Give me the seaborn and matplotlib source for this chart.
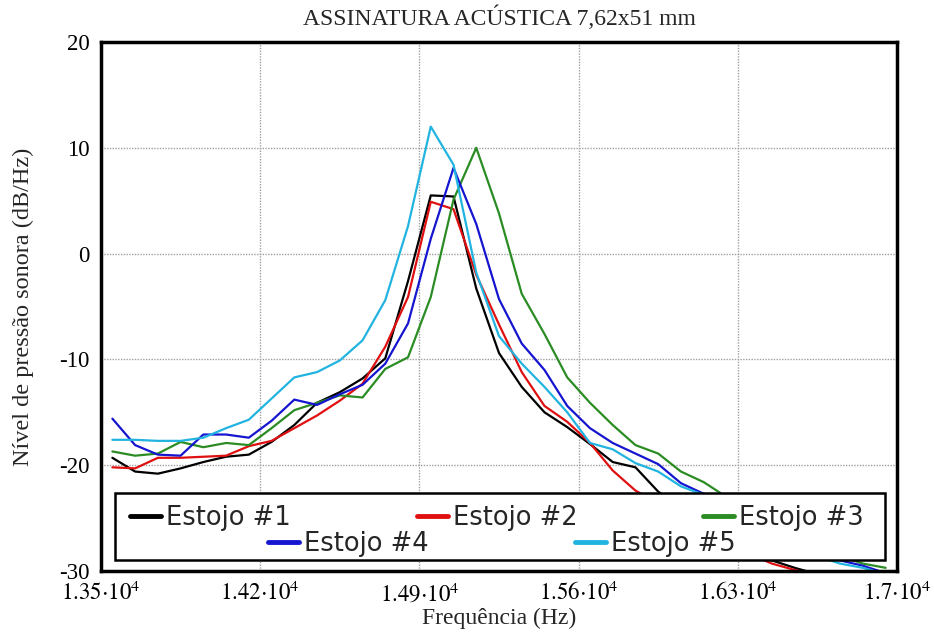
import numpy as np
import pandas as pd
import matplotlib
matplotlib.use("Agg")
import matplotlib.pyplot as plt
import seaborn as sns
from matplotlib.ticker import FixedLocator, FuncFormatter
from matplotlib.patches import Rectangle
from matplotlib.lines import Line2D

# ---------------- data ----------------
freq = [13550, 13650, 13750, 13850, 13950, 14050, 14150, 14250, 14350, 14450,
        14550, 14650, 14750, 14850, 14950, 15050, 15150, 15250, 15350, 15450,
        15550, 15650, 15750, 15850, 15950, 16050, 16150, 16250, 16350, 16450,
        16550, 16650, 16750, 16850, 16950]

estojo1 = [-19.3, -20.6, -20.8, -20.3, -19.7, -19.2, -19.0, -17.8, -16.2, -14.1,
           -13.1, -11.8, -9.9, -2.6, 5.5, 5.4, -3.3, -9.4, -12.6, -15.0,
           -16.4, -18.0, -19.7, -20.2, -22.5, -24.0, -25.3, -26.6, -27.8, -29.0,
           -29.7, -30.3, -30.8, -31.2, -31.5]
estojo2 = [-20.2, -20.3, -19.3, -19.3, -19.2, -19.1, -18.2, -17.7, -16.5, -15.3,
           -13.9, -12.3, -8.8, -4.1, 4.9, 4.2, -2.0, -6.7, -11.2, -14.4,
           -15.9, -17.9, -20.5, -22.4, -23.6, -24.8, -26.0, -27.2, -28.4, -29.3,
           -29.9, -30.4, -30.8, -31.1, -31.4]
estojo3 = [-18.7, -19.1, -18.9, -17.8, -18.3, -17.9, -18.1, -16.5, -14.8, -14.1,
           -13.4, -13.6, -10.9, -9.8, -4.1, 5.1, 10.0, 3.8, -3.8, -7.6,
           -11.7, -14.1, -16.2, -18.1, -18.9, -20.6, -21.6, -23.0, -24.3, -25.5,
           -26.7, -27.8, -28.6, -29.3, -29.7]
estojo4 = [-15.6, -18.1, -19.0, -19.1, -17.1, -17.1, -17.4, -15.8, -13.8, -14.3,
           -13.3, -12.4, -10.4, -6.6, 1.4, 8.1, 2.8, -4.3, -8.5, -11.0,
           -14.4, -16.5, -17.9, -18.9, -19.9, -21.7, -22.7, -23.8, -25.0, -26.3,
           -27.4, -28.3, -29.0, -29.5, -30.2]
estojo5 = [-17.6, -17.6, -17.7, -17.7, -17.4, -16.5, -15.7, -13.7, -11.7, -11.2,
           -10.1, -8.2, -4.4, 2.6, 12.0, 8.4, -1.8, -7.8, -10.4, -12.6,
           -15.0, -17.9, -18.5, -19.8, -20.6, -22.0, -22.8, -24.0, -25.3, -26.5,
           -27.6, -28.6, -29.3, -29.7, -30.3]

series_names = ["Estojo #1", "Estojo #2", "Estojo #3", "Estojo #4", "Estojo #5"]
series_values = [estojo1, estojo2, estojo3, estojo4, estojo5]
colors = ["#000000", "#e01010", "#2a8c22", "#1515d0", "#22b4e0"]

x_ticks = [13500, 14200, 14900, 15600, 16300, 17000]
x_tick_mant = ["1.35", "1.42", "1.49", "1.56", "1.63", "1.7"]
y_ticks = [20, 10, 0, -10, -20, -30]

title = "ASSINATURA ACÚSTICA 7,62x51 mm"
xlabel = "Frequência (Hz)"
ylabel = "Nível de pressão sonora (dB/Hz)"

# ---------------- frame ----------------
df = pd.DataFrame({
    "freq": np.tile(freq, len(series_names)),
    "level": np.concatenate(series_values),
    "estojo": np.repeat(series_names, len(freq)),
})

sns.set_theme(style="white")
plt.rcParams["font.family"] = ["Liberation Serif", "DejaVu Serif"]
plt.rcParams["mathtext.fontset"] = "stix"
plt.rcParams["axes.unicode_minus"] = False

fig = plt.figure(figsize=(9.34, 6.35), dpi=100)
ax = fig.add_axes([101 / 934, 1 - 571 / 635, 796 / 934, 529 / 635])

sns.lineplot(data=df, x="freq", y="level", hue="estojo", palette=colors,
             hue_order=series_names, linewidth=1.6, legend=False, ax=ax)

ax.set_xlim(13500, 17000)
ax.set_ylim(-30, 20)
ax.xaxis.set_major_locator(FixedLocator(x_ticks))
ax.yaxis.set_major_locator(FixedLocator(y_ticks))
lab_map = dict(zip(x_ticks, x_tick_mant))
ax.xaxis.set_major_formatter(FuncFormatter(
    lambda v, p: r"$%s{\cdot}10^{4}$" % lab_map.get(int(round(v)), "")))
ax.yaxis.set_major_formatter(FuncFormatter(lambda v, p: "%d" % v))

ax.grid(True, color="#a0a0a0", linestyle=(0, (1, 1)), linewidth=1.0)
for s in ax.spines.values():
    s.set_visible(True)
    s.set_color("black")
    s.set_linewidth(2.5)
ax.tick_params(axis="both", direction="out", length=5, width=2, colors="black",
               labelsize=16.5, pad=3)
for t in ax.get_xticklabels() + ax.get_yticklabels():
    t.set_color("black")

ax.set_title(title, fontsize=17, pad=12)
ax.set_xlabel(xlabel, fontsize=17, labelpad=1)
ax.set_ylabel(ylabel, fontsize=17.5, labelpad=18)

# ---------------- legend ----------------
lines = ax.get_lines()[:5]
rect = Rectangle((14 / 796, 11 / 529), 770 / 796, 67 / 529, transform=ax.transAxes,
                 facecolor="white", edgecolor="black", linewidth=1.8, zorder=4)
ax.add_patch(rect)

leg_kw = dict(frameon=False, prop={"family": "DejaVu Sans", "size": 18.5},
              handlelength=1.2, handletextpad=0.2, borderpad=0, borderaxespad=0,
              loc="center", bbox_transform=fig.transFigure)
h = [Line2D([], [], color=l.get_color(), linewidth=3.5) for l in lines]
leg1 = ax.legend(h[:3], series_names[:3], ncol=3, columnspacing=4.9,
                 bbox_to_anchor=(497 / 934, 1 - 518 / 635), **leg_kw)
leg1.set_zorder(6)
ax.add_artist(leg1)
leg2 = ax.legend(h[3:], series_names[3:], ncol=2, columnspacing=5.7,
                 bbox_to_anchor=(502 / 934, 1 - 544 / 635), **leg_kw)
leg2.set_zorder(6)

fig.savefig("out.png", dpi=100)
